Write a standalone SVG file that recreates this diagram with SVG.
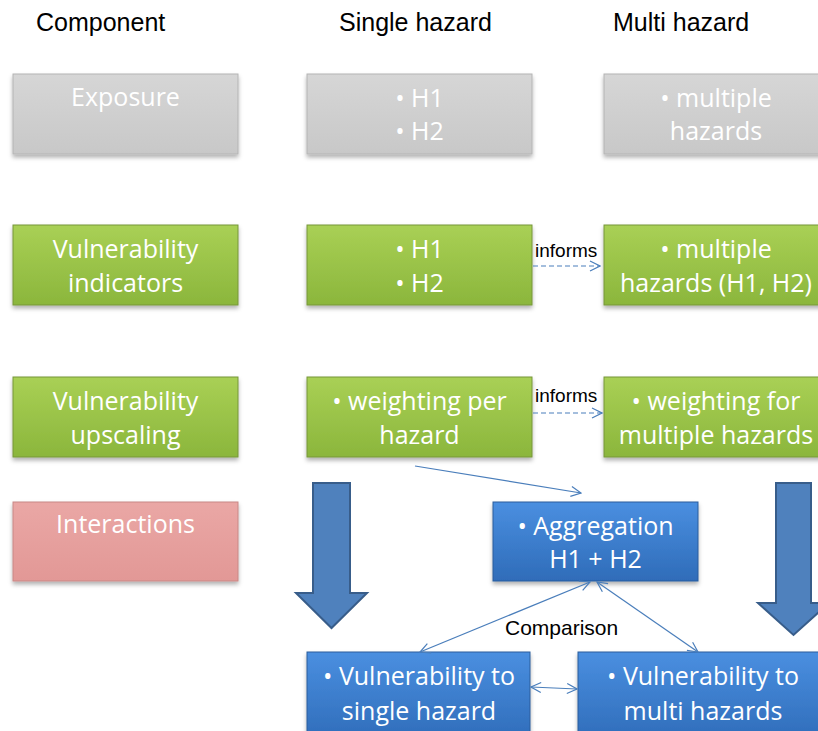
<svg xmlns="http://www.w3.org/2000/svg" width="818" height="731" viewBox="0 0 818 731">
<defs>
<linearGradient id="gGray" x1="0" y1="0" x2="0" y2="1"><stop offset="0" stop-color="#d6d6d6"/><stop offset="1" stop-color="#c8c8c8"/></linearGradient>
<linearGradient id="gGreen" x1="0" y1="0" x2="0" y2="1"><stop offset="0" stop-color="#a9d055"/><stop offset="1" stop-color="#8bb63c"/></linearGradient>
<linearGradient id="gBlue" x1="0" y1="0" x2="0" y2="1"><stop offset="0" stop-color="#4a8fe0"/><stop offset="1" stop-color="#2f6cb9"/></linearGradient>
<linearGradient id="gPink" x1="0" y1="0" x2="0" y2="1"><stop offset="0" stop-color="#eaa7a5"/><stop offset="1" stop-color="#e29896"/></linearGradient>
<filter id="sh" x="-5%" y="-5%" width="110%" height="125%"><feDropShadow dx="0" dy="3" stdDeviation="2" flood-color="#000" flood-opacity="0.3"/></filter>
<marker id="ah" viewBox="0 0 12 12" refX="11" refY="6" markerWidth="12" markerHeight="12" markerUnits="userSpaceOnUse" orient="auto-start-reverse"><path d="M1,1 L11,6 L1,11" fill="none" stroke="#4a7ebb" stroke-width="1.2"/></marker>
</defs>
<style>
.hdr{font-family:"Liberation Sans",Arial,sans-serif;font-size:25px;fill:#000}
.lbl{font-family:"Liberation Sans",Arial,sans-serif;font-size:19px;fill:#000}
.bt{font-family:"Open Sans","Liberation Sans",sans-serif;font-size:25px;fill:#fff;text-anchor:middle}
.gray{fill:url(#gGray);stroke:#b4b4b4;stroke-width:1;filter:url(#sh)}
.green{fill:url(#gGreen);stroke:#76963a;stroke-width:1;filter:url(#sh)}
.blue{fill:url(#gBlue);stroke:#2a5c9c;stroke-width:1;filter:url(#sh)}
.pink{fill:url(#gPink);stroke:#c88886;stroke-width:1;filter:url(#sh)}
.conn{fill:none;stroke:#4a7ebb;stroke-width:1.2}
.dash{stroke-dasharray:5,3}
.big{fill:#4f81bd;stroke:#385d8a;stroke-width:2}
</style>
<g id="headers">
<text class="hdr" x="36" y="31">Component</text>
<text class="hdr" x="339" y="31">Single hazard</text>
<text class="hdr" x="613" y="31">Multi hazard</text>
</g>
<g id="exposure"><rect class="gray" x="13" y="74" width="225" height="80"/><text class="bt" x="125.5" y="106">Exposure</text></g>
<g id="exposure-single"><rect class="gray" x="307" y="74" width="225" height="80"/><text class="bt" x="419.5" y="107">• H1</text><text class="bt" x="419.5" y="140">• H2</text></g>
<g id="exposure-multi"><rect class="gray" x="604" y="74" width="225" height="80"/><text class="bt" x="716" y="107">• multiple</text><text class="bt" x="716" y="140">hazards</text></g>
<g id="vuln-ind"><rect class="green" x="13" y="225" width="225" height="80"/><text class="bt" x="125.5" y="258">Vulnerability</text><text class="bt" x="125.5" y="292">indicators</text></g>
<g id="vuln-ind-single"><rect class="green" x="307" y="225" width="225" height="80"/><text class="bt" x="419.5" y="258">• H1</text><text class="bt" x="419.5" y="292">• H2</text></g>
<g id="vuln-ind-multi"><rect class="green" x="604" y="225" width="225" height="80"/><text class="bt" x="716" y="258">• multiple</text><text class="bt" x="716" y="292">hazards (H1, H2)</text></g>
<g id="vuln-up"><rect class="green" x="13" y="377" width="225" height="80"/><text class="bt" x="125.5" y="410">Vulnerability</text><text class="bt" x="125.5" y="444">upscaling</text></g>
<g id="vuln-up-single"><rect class="green" x="307" y="377" width="225" height="80"/><text class="bt" x="419.5" y="410">• weighting per</text><text class="bt" x="419.5" y="444">hazard</text></g>
<g id="vuln-up-multi"><rect class="green" x="604" y="377" width="225" height="80"/><text class="bt" x="716" y="410">• weighting for</text><text class="bt" x="716" y="444">multiple hazards</text></g>
<g id="interactions"><rect class="pink" x="13" y="502" width="225" height="79"/><text class="bt" x="125.5" y="533">Interactions</text></g>
<g id="aggregation"><rect class="blue" x="493" y="502" width="205" height="79"/><text class="bt" x="595.5" y="535">• Aggregation</text><text class="bt" x="595.5" y="568">H1 + H2</text></g>
<g id="vuln-single"><rect class="blue" x="307" y="652" width="223" height="90"/><text class="bt" x="419" y="685">• Vulnerability to</text><text class="bt" x="419" y="720">single hazard</text></g>
<g id="vuln-multi"><rect class="blue" x="578" y="652" width="250" height="90"/><text class="bt" x="703" y="685">• Vulnerability to</text><text class="bt" x="703" y="720">multi hazards</text></g>
<g id="arrow-left"><path class="big" d="M313,483 H350 V593 H367 L331.5,628 L296,593 H313 Z"/></g>
<g id="arrow-right"><path class="big" d="M776,483 H811 V603 H829 L793.5,635 L758,603 H776 Z"/></g>
<g id="connectors">
<path class="conn dash" d="M533,266 H600" marker-end="url(#ah)"/>
<text class="lbl" x="535" y="257">informs</text>
<path class="conn dash" d="M533,413 H602" marker-end="url(#ah)"/>
<text class="lbl" x="535" y="402">informs</text>
<path class="conn" d="M415,466 L581,493" marker-end="url(#ah)"/>
<path class="conn" d="M420,652 L590,582" marker-start="url(#ah)" marker-end="url(#ah)"/>
<path class="conn" d="M597,582 L698,652" marker-start="url(#ah)" marker-end="url(#ah)"/>
<path class="conn" d="M531,687 L577,689" marker-start="url(#ah)" marker-end="url(#ah)"/>
<text class="lbl" x="505" y="635" style="font-size:21px">Comparison</text>
</g>
</svg>
